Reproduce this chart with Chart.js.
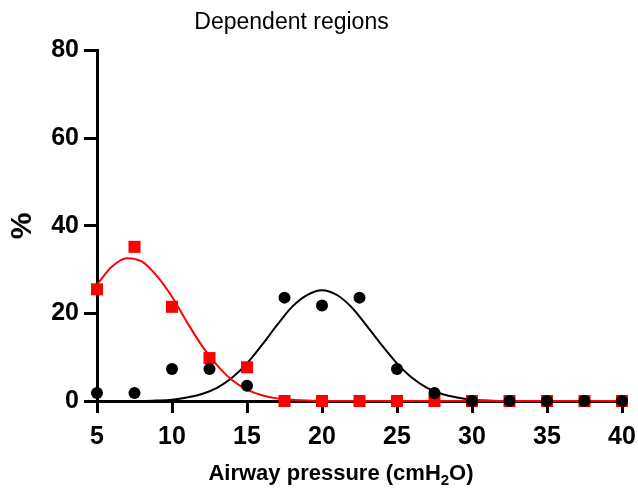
<!DOCTYPE html>
<html lang="en">
<head>
  <meta charset="UTF-8">
  <title>Dependent regions</title>
  <style>
    body { margin: 0; background: white; }
    #wrap { width: 638px; height: 490px; }
  </style>
</head>
<body>
  <div id="wrap"><canvas id="chart" width="638" height="490"></canvas></div>

  <script src="https://cdn.jsdelivr.net/npm/chart.js"></script>
  <script>
    // measured points (x = airway pressure, y = %)
    const pressure = [5, 7.5, 10, 12.5, 15, 17.5, 20, 22.5, 25, 27.5, 30, 32.5, 35, 37.5, 40];
    const redPoints = [25.5, 35.2, 21.5, 9.8, 7.7, 0, 0, 0, 0, 0, 0, 0, 0, 0, 0];
    const blackPoints = [1.8, 1.8, 7.3, 7.3, 3.5, 23.6, 21.8, 23.6, 7.3, 1.8, 0, 0, 0, 0, 0];

    // fitted curves at each whole cmH2O
    const fitX = [5, 6, 7, 8, 9, 10, 11, 12, 13, 14, 15, 16, 17, 18, 19, 20, 21, 22, 23, 24, 25, 26, 27, 28, 29, 30, 31, 32, 33, 34, 35, 36, 37, 38, 39, 40];
    const redFit = [26.6, 30.7, 32.6, 31.8, 28.5, 23.8, 18.0, 12.6, 8.2, 4.8, 2.6, 1.3, 0.6, 0.3, 0.1, 0, 0, 0, 0, 0, 0, 0, 0, 0, 0, 0, 0, 0, 0, 0, 0, 0, 0, 0, 0, 0];
    const blackFit = [0, 0, 0, 0, 0.1, 0.3, 0.8, 1.6, 3.0, 5.3, 8.6, 12.8, 17.3, 21.5, 24.2, 25.3, 24.2, 21.3, 17.1, 12.7, 8.6, 5.3, 3.0, 1.6, 0.8, 0.3, 0.1, 0, 0, 0, 0, 0, 0, 0, 0, 0];

    const xTicks = [5, 10, 15, 20, 25, 30, 35, 40];
    const yTicks = [0, 20, 40, 60, 80];

    const chartTitle = 'Dependent regions';
    const yTitle = '%';
    const xTitleParts = ['Airway pressure (cmH', '2', 'O)'];

    const pairs = (xs, ys) => xs.map((x, i) => ({ x: x, y: ys[i] }));

    // move the title a bit left, like the original figure
    const titleShift = {
      id: 'titleShift',
      afterLayout(chart) {
        const t = chart.titleBlock;
        if (t) { t.left = 0; t.right = 583; }
      }
    };

    // x axis title with a real subscript
    const xAxisTitle = {
      id: 'xAxisTitle',
      afterDraw(chart) {
        const ctx = chart.ctx;
        const big = 'bold 22px "Liberation Sans", Arial, sans-serif';
        const small = 'bold 15px "Liberation Sans", Arial, sans-serif';
        ctx.save();
        ctx.fillStyle = '#000';
        ctx.textBaseline = 'alphabetic';
        ctx.textAlign = 'left';
        ctx.font = big;
        const w0 = ctx.measureText(xTitleParts[0]).width;
        const w2 = ctx.measureText(xTitleParts[2]).width;
        ctx.font = small;
        const w1 = ctx.measureText(xTitleParts[1]).width;
        let x = 341 - (w0 + w1 + w2) / 2;
        const base = 480;
        ctx.font = big;
        ctx.fillText(xTitleParts[0], x, base);
        x += w0;
        ctx.font = small;
        ctx.fillText(xTitleParts[1], x, base + 5);
        x += w1;
        ctx.font = big;
        ctx.fillText(xTitleParts[2], x, base);
        ctx.restore();
      }
    };

    const tickFont = { family: '"Liberation Sans", Arial, sans-serif', size: 25, weight: 'bold' };

    new Chart(document.getElementById('chart'), {
      type: 'scatter',
      data: {
        datasets: [
          {
            label: 'Black points',
            data: pairs(pressure, blackPoints),
            pointStyle: 'circle',
            pointRadius: 6,
            pointHoverRadius: 6,
            backgroundColor: '#000',
            borderColor: '#000',
            borderWidth: 0,
            showLine: false,
            clip: false,
            order: 0
          },
          {
            label: 'Red points',
            data: pairs(pressure, redPoints),
            pointStyle: 'rect',
            pointRadius: 8.5,
            pointHoverRadius: 8.5,
            backgroundColor: '#ff0000',
            borderColor: '#ff0000',
            borderWidth: 0,
            showLine: false,
            clip: false,
            order: 1
          },
          {
            label: 'Red fit',
            data: pairs(fitX, redFit),
            showLine: true,
            pointRadius: 0,
            borderColor: '#ff0000',
            borderWidth: 2,
            cubicInterpolationMode: 'monotone',
            clip: false,
            order: 2
          },
          {
            label: 'Black fit',
            data: pairs(fitX, blackFit),
            showLine: true,
            pointRadius: 0,
            borderColor: '#000',
            borderWidth: 2,
            cubicInterpolationMode: 'monotone',
            clip: false,
            order: 3
          }
        ]
      },
      options: {
        responsive: false,
        animation: false,
        layout: { padding: { left: 0, right: 16, top: 0, bottom: 0 } },
        plugins: {
          legend: { display: false },
          tooltip: { enabled: false },
          title: {
            display: true,
            text: chartTitle,
            color: '#000',
            font: { family: '"Liberation Sans", Arial, sans-serif', size: 23, weight: 'normal' },
            padding: { top: 9, bottom: 14 }
          }
        },
        scales: {
          x: {
            type: 'linear',
            min: 5,
            max: 40,
            afterFit(scale) {
              scale.height = 89;
              scale.paddingLeft = 0;
              scale.paddingRight = 14;
            },
            afterBuildTicks(scale) { scale.ticks = xTicks.map(v => ({ value: v })); },
            border: { display: true, color: '#000', width: 3 },
            grid: { drawOnChartArea: false, drawTicks: true, tickLength: 12, tickWidth: 3, tickColor: '#000' },
            ticks: { color: '#000', font: tickFont, padding: 9 }
          },
          y: {
            min: 0,
            max: 80,
            afterFit(scale) { scale.width = 97; },
            afterBuildTicks(scale) { scale.ticks = yTicks.map(v => ({ value: v })); },
            border: { display: true, color: '#000', width: 3 },
            grid: { drawOnChartArea: false, drawTicks: true, tickLength: 13, tickWidth: 3, tickColor: '#000' },
            ticks: { color: '#000', font: tickFont, padding: 5 },
            title: {
              display: true,
              text: yTitle,
              color: '#000',
              font: { family: '"Liberation Sans", Arial, sans-serif', size: 30, weight: 'bold' },
              padding: { top: 5, bottom: 0 }
            }
          }
        }
      },
      plugins: [titleShift, xAxisTitle]
    });
  </script>
</body>
</html>
